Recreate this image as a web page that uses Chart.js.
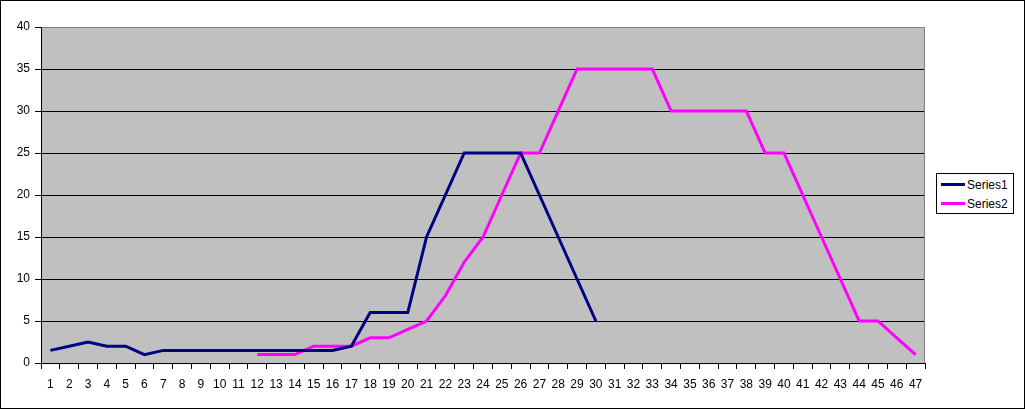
<!DOCTYPE html>
<html>
<head>
<meta charset="utf-8">
<script src="https://cdn.jsdelivr.net/npm/chart.js@4/dist/chart.umd.min.js"></script>
<style>
  body { margin: 0; background: #fff; }
  #wrap { position: relative; width: 1025px; height: 409px; }
  #legend {
    position: absolute; left: 936px; top: 173px; width: 78px; height: 41px;
    border: 1px solid #000; background: #fff; box-sizing: border-box;
    font: 12px "Liberation Sans", Arial, sans-serif; color: #000;
  }
  .item { position: absolute; left: 4px; height: 14px; line-height: 14px; }
  .item i { display: inline-block; width: 24px; height: 3px; vertical-align: middle; margin-right: 2px; position: relative; top: -1px; }
</style>
</head>
<body>
<div id="wrap">
  <canvas id="c" width="1025" height="409"></canvas>
  <div id="legend">
    <div class="item" style="top:4px"><i style="background:#000080"></i>Series1</div>
    <div class="item" style="top:23px"><i style="background:#ff00ff"></i>Series2</div>
  </div>
</div>
<script>
// categories 1..47
const categories = ["1","2","3","4","5","6","7","8","9","10","11","12","13","14","15","16","17","18","19","20",
  "21","22","23","24","25","26","27","28","29","30","31","32","33","34","35","36","37","38","39","40",
  "41","42","43","44","45","46","47"];

const series1 = [1.5, 2, 2.5, 2, 2, 1, 1.5, 1.5, 1.5, 1.5, 1.5, 1.5, 1.5, 1.5, 1.5, 1.5, 2, 6, 6, 6,
  15, 20, 25, 25, 25, 25, 20, 15, 10, 5,
  null, null, null, null, null, null, null, null, null, null, null, null, null, null, null, null, null];

const series2 = [null, null, null, null, null, null, null, null, null, null, null,
  1, 1, 1, 2, 2, 2, 3, 3, 4, 5, 8, 12, 15, 20, 25, 25, 30, 35, 35, 35, 35, 35,
  30, 30, 30, 30, 30, 25, 25, 20, 15, 10, 5, 5, 3, 1];

const yTicks = [0, 5, 10, 15, 20, 25, 30, 35, 40];

const font = { family: "'Liberation Sans', Arial, sans-serif", size: 12 };

// gray plot area, plot border and outer frame
const excelLook = {
  id: "excelLook",
  beforeDraw(chart) {
    const { ctx, chartArea: a } = chart;
    ctx.save();
    ctx.fillStyle = "#fff";
    ctx.fillRect(0, 0, chart.width, chart.height);
    ctx.fillStyle = "#c0c0c0";
    ctx.fillRect(a.left, a.top, a.right - a.left, a.bottom - a.top);
    ctx.strokeStyle = "#000";
    ctx.lineWidth = 1;
    ctx.strokeRect(0.5, 0.5, chart.width - 1, chart.height - 1);
    ctx.restore();
  },
  afterDatasetsDraw(chart) {
    const { ctx, chartArea: a } = chart;
    ctx.save();
    ctx.strokeStyle = "#808080";
    ctx.lineWidth = 1;
    ctx.beginPath();
    ctx.moveTo(a.left, a.top + 0.5); ctx.lineTo(a.right - 0.5, a.top + 0.5); ctx.lineTo(a.right - 0.5, a.bottom);
    ctx.stroke();
    ctx.strokeStyle = "#000";
    ctx.beginPath();
    ctx.moveTo(a.left + 0.5, a.top); ctx.lineTo(a.left + 0.5, a.bottom + 0.5); ctx.lineTo(a.right, a.bottom + 0.5);
    ctx.stroke();
    ctx.restore();
  }
};

new Chart(document.getElementById("c"), {
  type: "line",
  data: {
    labels: categories,
    datasets: [
      { label: "Series1", data: series1, borderColor: "#000080", borderWidth: 3, pointRadius: 0, tension: 0, spanGaps: false },
      { label: "Series2", data: series2, borderColor: "#ff00ff", borderWidth: 3, pointRadius: 0, tension: 0, spanGaps: false },
    ],
  },
  options: {
    responsive: false,
    animation: false,
    layout: { padding: { top: 27, right: 100, bottom: 0, left: 0 } },
    plugins: { legend: { display: false }, tooltip: { enabled: false } },
    scales: {
      x: {
        offset: true,
        grid: { offset: true, drawOnChartArea: false, drawTicks: true, tickLength: 6, color: "#000" },
        border: { display: false },
        ticks: { color: "#000", font, maxRotation: 0, autoSkip: false, padding: 8 },
        afterFit(s) { s.height = 46; },
      },
      y: {
        min: 0, max: 40,
        afterBuildTicks(s) { s.ticks = yTicks.map(v => ({ value: v })); },
        grid: {
          color: ctx => (ctx.tick && ctx.tick.value === 40 ? "#808080" : "#000"),
          tickColor: "#000", tickLength: 6, drawTicks: true,
        },
        border: { display: false },
        ticks: { color: "#000", font, padding: 5 },
        afterFit(s) { s.width = 41; },
      },
    },
  },
  plugins: [excelLook],
});
</script>
</body>
</html>
